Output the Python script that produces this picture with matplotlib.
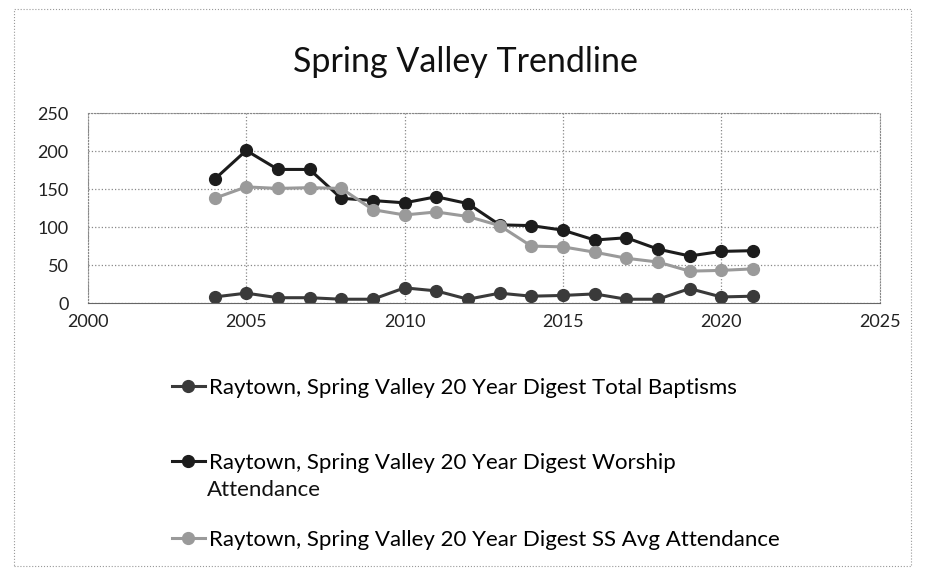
import matplotlib
matplotlib.use("Agg")
import matplotlib.pyplot as plt
from matplotlib.patches import Rectangle

plt.rcParams['font.family'] = ['Lato', 'DejaVu Sans']

years = [2004, 2005, 2006, 2007, 2008, 2009, 2010, 2011, 2012,
         2013, 2014, 2015, 2016, 2017, 2018, 2019, 2020, 2021]
baptisms = [8, 13, 7, 7, 5, 5, 20, 16, 5, 13, 9, 10, 12, 5, 5, 19, 8, 9]
worship = [163, 201, 176, 176, 138, 135, 132, 140, 131,
           103, 102, 96, 83, 86, 71, 62, 68, 69]
ss_avg = [138, 153, 151, 152, 151, 123, 116, 120, 114,
          102, 75, 74, 67, 59, 54, 42, 43, 45]

labels = ["Raytown, Spring Valley 20 Year Digest Total Baptisms",
          "Raytown, Spring Valley 20 Year Digest Worship",
          "Raytown, Spring Valley 20 Year Digest SS Avg Attendance"]
colors = ["#3a3a3a", "#1c1c1c", "#9a9a9a"]

fig = plt.figure(figsize=(9.25, 5.75), dpi=100)
ax = fig.add_axes([0.095, 0.473, 0.856, 0.33])

lines = []
for vals, c, lab in zip([baptisms, worship, ss_avg], colors, labels):
    ln, = ax.plot(years, vals, color=c, lw=2.2, marker='o', markersize=8.5,
                  markerfacecolor=c, markeredgecolor=c, label=lab)
    lines.append(ln)

ax.set_xlim(2000, 2025)
ax.set_ylim(0, 250)
ax.set_xticks([2000, 2005, 2010, 2015, 2020, 2025])
ax.set_yticks([0, 50, 100, 150, 200, 250])
ax.grid(True, color='#888888', linestyle=':', linewidth=0.9)
ax.tick_params(length=0, labelsize=13, colors='#222222', pad=8)
ax.tick_params(axis='y', pad=14)
for s in ['top', 'right', 'left']:
    ax.spines[s].set_color('#888888')
    ax.spines[s].set_linestyle(':')
ax.spines['bottom'].set_color('#666666')

fig.text(0.503, 0.893, "Spring Valley Trendline", ha='center', va='center',
         fontsize=24.5, color='#111111')

# legend entries stacked below the plot
legend_y = [0.325, 0.195, 0.061]
for ln, y in zip(lines, legend_y):
    fig.legend(handles=[ln], loc='center left', bbox_to_anchor=(0.176, y),
               frameon=False, fontsize=16, handlelength=1.5,
               handletextpad=0.2, borderaxespad=0)
fig.text(0.224, 0.147, "Attendance", ha='left', va='center', fontsize=16,
         color='#111111')

fig.patches.append(Rectangle((0.015, 0.015), 0.97, 0.97, transform=fig.transFigure,
                             fill=False, edgecolor='#999999', linestyle=':', lw=0.8))

fig.savefig("out.png", dpi=100)
